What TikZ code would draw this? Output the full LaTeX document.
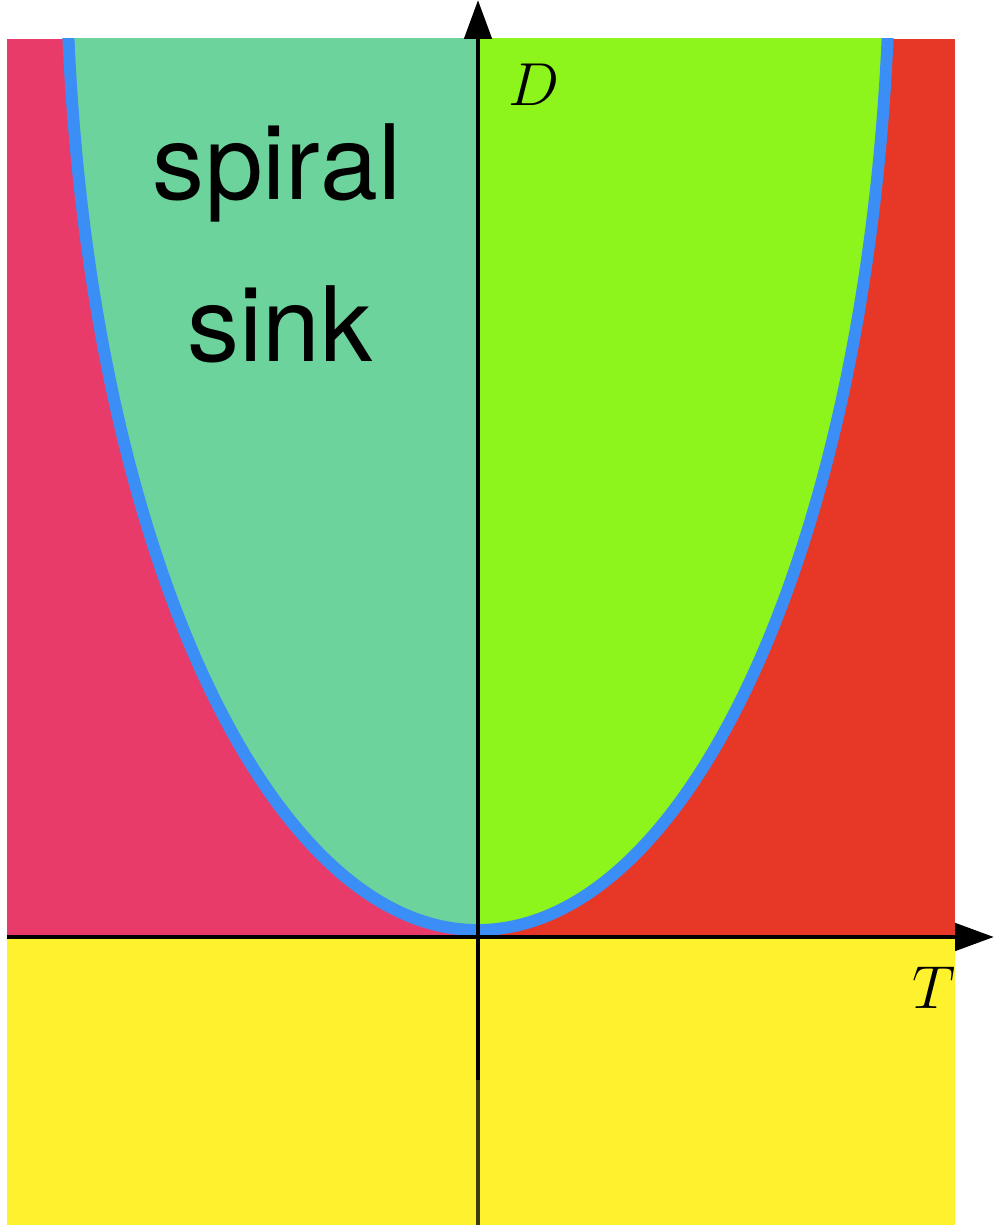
\documentclass[tikz,border=0pt]{standalone}
\usepackage{fontspec}
\newfontfamily\helv{TeX Gyre Heros}
\usetikzlibrary{arrows.meta}
\definecolor{cpink}{HTML}{E83B6A}
\definecolor{cred}{HTML}{E73727}
\definecolor{cteal}{HTML}{6CD39C}
\definecolor{clime}{HTML}{8EF51C}
\definecolor{cyellow}{HTML}{FDF22D}
\definecolor{cblue}{HTML}{3B8EF5}
\tikzset{
  axisline/.style={line width=1.4pt, black, -{Triangle[length=0.39cm,width=0.27cm]}},
  plainaxis/.style={line width=1.4pt, black},
  curve/.style={cblue, line width=3.4pt},
  biglabel/.style={font=\helv\fontsize{29.6}{35}\selectfont, inner sep=0pt, anchor=base},
  axislabel/.style={font=\fontsize{19}{19}\selectfont, inner sep=0pt}
}
\begin{document}
\begin{tikzpicture}
\useasboundingbox (0,0) rectangle (9.94,12.25);
\coordinate (ctop) at (0.6757,12.0784);
\coordinate (vtx) at (4.78,2.95);
\coordinate (axtop) at (4.78,12.6);
\begin{scope}
  \clip (0.07,0) rectangle (9.55,11.86);
  \fill[cyellow] (0.07,0) rectangle (9.55,2.88);
  \fill[cpink] (0.07,2.88) rectangle (4.78,11.86);
  \fill[cred] (4.78,2.88) rectangle (9.55,11.86);
  \fill[cteal] (ctop) arc[start angle=185, end angle=270, x radius=4.12, y radius=10] -- (axtop) -- cycle;
  \fill[clime] (vtx) arc[start angle=270, end angle=355, x radius=4.12, y radius=10] -- (axtop) -- cycle;
  \draw[curve] (ctop) arc[start angle=185, end angle=355, x radius=4.12, y radius=10];
\end{scope}
\coordinate (yb) at (4.78,0);
\coordinate (ym) at (4.78,1.45);
\coordinate (yt) at (4.78,12.25);
\coordinate (xl) at (0.07,2.88);
\coordinate (xr) at (9.94,2.88);
\draw[axisline] (xl) -- (xr);
\draw[plainaxis, opacity=0.75] (yb) -- (ym);
\draw[axisline] (ym) -- (yt);
\node[axislabel] (Dlab) at (5.34,11.40) {$D$};
\node[axislabel] (Tlab) at (9.34,2.37) {$T$};
\node[biglabel] (spiral) at (2.77,10.25) {spiral};
\node[biglabel] (sink) at (2.80,8.63) {sink};
\end{tikzpicture}
\end{document}
